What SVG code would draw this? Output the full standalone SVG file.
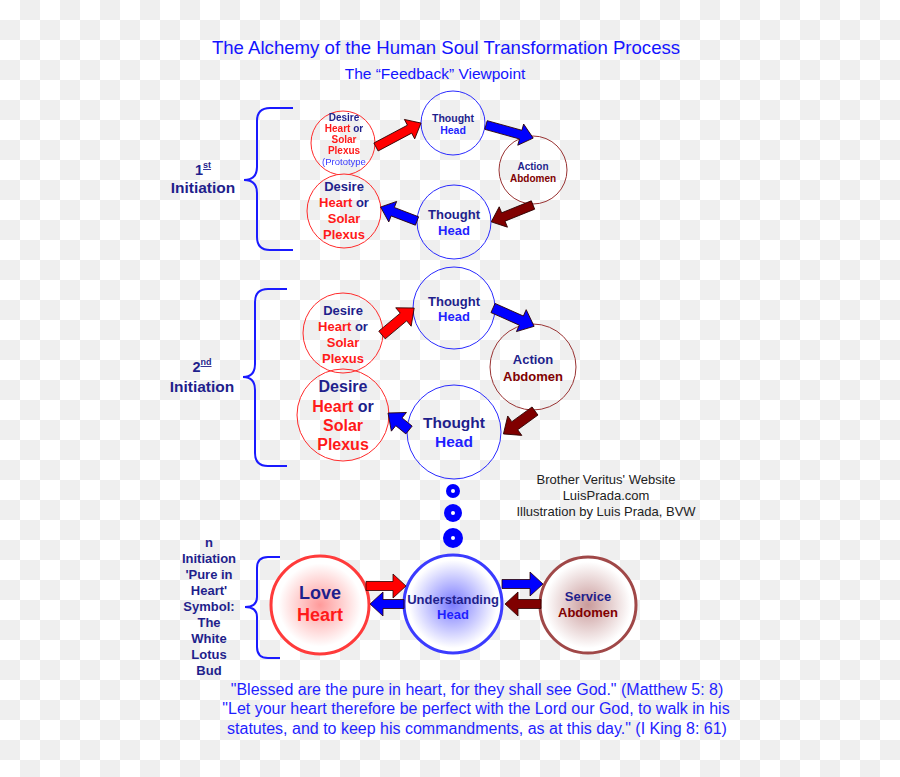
<svg xmlns="http://www.w3.org/2000/svg" width="900" height="777" viewBox="0 0 900 777">
<style>
.t{font-family:"Liberation Sans",Arial,sans-serif;text-anchor:middle}
.b{font-weight:bold}
.nv{fill:#1f1f8c}
.rd{fill:#ff1a1a}
.hd{fill:#1f1fff}
.ab{fill:#800000}
.cr{fill:none;stroke:#ff2a2a;stroke-width:1}
.cb{fill:none;stroke:#2a2aff;stroke-width:1}
.ca{fill:none;stroke:#993333;stroke-width:1}
.ar{stroke:#2a0000;stroke-width:0.8;stroke-linejoin:miter}
.br{fill:none;stroke:#1a1aff;stroke-width:2}
</style>
<defs>
<pattern id="checker" width="40" height="40" patternUnits="userSpaceOnUse">
<rect width="40" height="40" fill="#ffffff"/>
<rect x="20" y="0" width="20" height="20" fill="#efefef"/>
<rect x="0" y="20" width="20" height="20" fill="#efefef"/>
</pattern>
<radialGradient id="gLove"><stop offset="0" stop-color="#ff9a9a"/><stop offset="0.85" stop-color="#ffffff"/></radialGradient>
<radialGradient id="gUnd"><stop offset="0" stop-color="#7a7aff"/><stop offset="0.9" stop-color="#ffffff"/></radialGradient>
<radialGradient id="gSrv"><stop offset="0" stop-color="#c99a9a"/><stop offset="0.9" stop-color="#ffffff"/></radialGradient>
<mask id="protoMask"><rect width="900" height="777" fill="#fff"/><circle cx="344" cy="211" r="37" fill="#000"/></mask>
</defs>
<rect width="900" height="777" fill="url(#checker)"/>

<g id="title">
<text class="t" x="446" y="54" font-size="18.6" fill="#1414ff">The Alchemy of the Human Soul Transformation Process</text>
<text class="t" x="435" y="79" font-size="15.5" fill="#1414ff">The “Feedback” Viewpoint</text>
</g>

<g id="label-1st">
<path class="br" d="M293,108 L270,108 Q257,108 257,121 L257,167 Q257,180 244,180 Q257,180 257,193 L257,237 Q257,250 270,250 L293,250"/>
<text class="t b nv" x="203" y="175" font-size="14.5">1<tspan font-size="9" dy="-7" text-decoration="underline">st</tspan></text>
<text class="t b nv" x="203" y="193" font-size="15.5">Initiation</text>
</g>

<g id="n1-desire-proto" mask="url(#protoMask)">
<circle class="cr" cx="343" cy="143" r="32"/>
<text class="t b nv" x="344" y="121" font-size="10">Desire</text>
<text class="t b nv" x="344" y="132" font-size="10"><tspan class="rd">Heart</tspan> or</text>
<text class="t b rd" x="344" y="143" font-size="10">Solar</text>
<text class="t b rd" x="344" y="154" font-size="10">Plexus</text>
<text class="t" x="344" y="165" font-size="9.5" fill="#3a3aff">(Prototype</text>
</g>
<g id="n1-thought-top">
<circle class="cb" cx="453" cy="123" r="32"/>
<text class="t b nv" x="453" y="122" font-size="10.5">Thought</text>
<text class="t b hd" x="453" y="134" font-size="10.5">Head</text>
</g>
<g id="n1-action">
<circle class="ca" cx="533" cy="170" r="34"/>
<text class="t b nv" x="533" y="170" font-size="10">Action</text>
<text class="t b ab" x="533" y="182" font-size="10">Abdomen</text>
</g>
<g id="n1-thought-bottom">
<circle class="cb" cx="454" cy="222" r="37"/>
<text class="t b nv" x="454" y="219" font-size="13">Thought</text>
<text class="t b hd" x="454" y="235" font-size="13">Head</text>
</g>
<g id="n1-desire">
<circle class="cr" cx="344" cy="211" r="37"/>
<text class="t b nv" x="344" y="191" font-size="13">Desire</text>
<text class="t b nv" x="344" y="207" font-size="13"><tspan class="rd">Heart</tspan> or</text>
<text class="t b rd" x="344" y="223" font-size="13">Solar</text>
<text class="t b rd" x="344" y="239" font-size="13">Plexus</text>
</g>

<g id="label-2nd">
<path class="br" d="M287,289 L268,289 Q255,289 255,302 L255,364 Q255,377 243,377 Q255,377 255,390 L255,453 Q255,466 268,466 L287,466"/>
<text class="t b nv" x="202" y="372" font-size="14.5">2<tspan font-size="9" dy="-7" text-decoration="underline">nd</tspan></text>
<text class="t b nv" x="202" y="392" font-size="15.5">Initiation</text>
</g>

<g id="n2-desire-top">
<circle class="cr" cx="343" cy="333" r="40"/>
<text class="t b nv" x="343" y="315" font-size="13">Desire</text>
<text class="t b nv" x="343" y="331" font-size="13"><tspan class="rd">Heart</tspan> or</text>
<text class="t b rd" x="343" y="347" font-size="13">Solar</text>
<text class="t b rd" x="343" y="363" font-size="13">Plexus</text>
</g>
<g id="n2-thought-top">
<circle class="cb" cx="454" cy="308" r="41"/>
<text class="t b nv" x="454" y="306" font-size="13">Thought</text>
<text class="t b hd" x="454" y="321" font-size="13">Head</text>
</g>
<g id="n2-action">
<circle class="ca" cx="533" cy="367" r="43"/>
<text class="t b nv" x="533" y="364" font-size="13">Action</text>
<text class="t b ab" x="533" y="381" font-size="13">Abdomen</text>
</g>
<g id="n2-thought-bottom">
<circle class="cb" cx="454" cy="432" r="47"/>
<text class="t b nv" x="454" y="428" font-size="15.5">Thought</text>
<text class="t b hd" x="454" y="447" font-size="15.5">Head</text>
</g>
<g id="n2-desire-bottom">
<circle class="cr" cx="343" cy="415" r="46"/>
<text class="t b nv" x="343" y="392" font-size="16">Desire</text>
<text class="t b nv" x="343" y="412" font-size="16"><tspan class="rd">Heart</tspan> or</text>
<text class="t b rd" x="343" y="431" font-size="16">Solar</text>
<text class="t b rd" x="343" y="450" font-size="16">Plexus</text>
</g>

<g id="dots">
<circle cx="453" cy="491" r="7" fill="#0000ff"/><circle cx="453" cy="491" r="2" fill="#fff"/>
<circle cx="453" cy="513" r="9" fill="#0000ff"/><circle cx="453" cy="513" r="2" fill="#fff"/>
<circle cx="453" cy="538" r="10" fill="#0000ff"/><circle cx="453" cy="538" r="2" fill="#fff"/>
</g>

<g id="credits" class="t" font-size="13" fill="#222">
<text x="606" y="484">Brother Veritus' Website</text>
<text x="606" y="500">LuisPrada.com</text>
<text x="606" y="516">Illustration by Luis Prada, BVW</text>
</g>

<g id="label-n">
<path class="br" stroke-width="1.5" d="M280,557 L268,557 Q257,557 257,568 L257,597 Q257,607 245,607 Q257,607 257,617 L257,647 Q257,658 268,658 L280,658"/>
<g class="t b nv" font-size="13">
<text x="209" y="547">n</text>
<text x="209" y="563">Initiation</text>
<text x="209" y="579">'Pure in</text>
<text x="209" y="595">Heart'</text>
<text x="209" y="611">Symbol:</text>
<text x="209" y="627">The</text>
<text x="209" y="643">White</text>
<text x="209" y="659">Lotus</text>
<text x="209" y="675">Bud</text>
</g>
</g>

<g id="n-love">
<circle cx="320" cy="605" r="49" fill="url(#gLove)" stroke="#ff3b3b" stroke-width="3"/>
<text class="t b nv" x="320" y="599" font-size="18">Love</text>
<text class="t b rd" x="320" y="621" font-size="18">Heart</text>
</g>
<g id="n-understanding">
<circle cx="453" cy="604" r="49" fill="url(#gUnd)" stroke="#3b3bff" stroke-width="3"/>
<text class="t b nv" x="453" y="604" font-size="13">Understanding</text>
<text class="t b hd" x="453" y="619" font-size="13">Head</text>
</g>
<g id="n-service">
<circle cx="588" cy="605" r="48" fill="url(#gSrv)" stroke="#a04848" stroke-width="3"/>
<text class="t b nv" x="588" y="601" font-size="13">Service</text>
<text class="t b ab" x="588" y="617" font-size="13">Abdomen</text>
</g>

<g id="connectors" class="ar">
<polygon fill="#ff0000" points="0,-4.5 38,-4.5 38,-11 51,0 38,11 38,4.5 0,4.5" transform="translate(376,147) rotate(-28)"/>
<polygon fill="#0000ff" points="0,-4.5 36,-4.5 36,-11 49,0 36,11 36,4.5 0,4.5" transform="translate(486,125) rotate(15.5)"/>
<polygon fill="#800000" points="0,-4.5 32,-4.5 32,-11 45,0 32,11 32,4.5 0,4.5" transform="translate(533,205) rotate(158)"/>
<polygon fill="#0000ff" points="0,-4.5 26,-4.5 26,-11 39,0 26,11 26,4.5 0,4.5" transform="translate(417,221) rotate(201)"/>

<polygon fill="#ff0000" points="0,-5 28,-5 28,-12 42,0 28,12 28,5 0,5" transform="translate(382,335) rotate(-40)"/>
<polygon fill="#0000ff" points="0,-5 31,-5 31,-12 45,0 31,12 31,5 0,5" transform="translate(493,308) rotate(24)"/>
<polygon fill="#800000" points="0,-5 25,-5 25,-12 39,0 25,12 25,5 0,5" transform="translate(535,411) rotate(144)"/>
<polygon fill="#0000ff" points="0,-5 13,-5 13,-12 27,0 13,12 13,5 0,5" transform="translate(409,430) rotate(219)"/>

<polygon fill="#ff0000" points="0,-4.5 27,-4.5 27,-12 40,0 27,12 27,4.5 0,4.5" transform="translate(366,586)"/>
<polygon fill="#0000ff" points="0,-4.5 21,-4.5 21,-12 34,0 21,12 21,4.5 0,4.5" transform="translate(404,604) rotate(180)"/>
<polygon fill="#0000ff" points="0,-4.5 28,-4.5 28,-12 41,0 28,12 28,4.5 0,4.5" transform="translate(502,584)"/>
<polygon fill="#800000" points="0,-4.5 23,-4.5 23,-12 36,0 23,12 23,4.5 0,4.5" transform="translate(541,604) rotate(180)"/>
</g>

<g id="quotes" class="t" font-size="16" fill="#1f1fff">
<text x="477" y="695">"Blessed are the pure in heart, for they shall see God." (Matthew 5: 8)</text>
<text x="476" y="714">"Let your heart therefore be perfect with the Lord our God, to walk in his</text>
<text x="477" y="734">statutes, and to keep his commandments, as at this day." (I King 8: 61)</text>
</g>
</svg>
